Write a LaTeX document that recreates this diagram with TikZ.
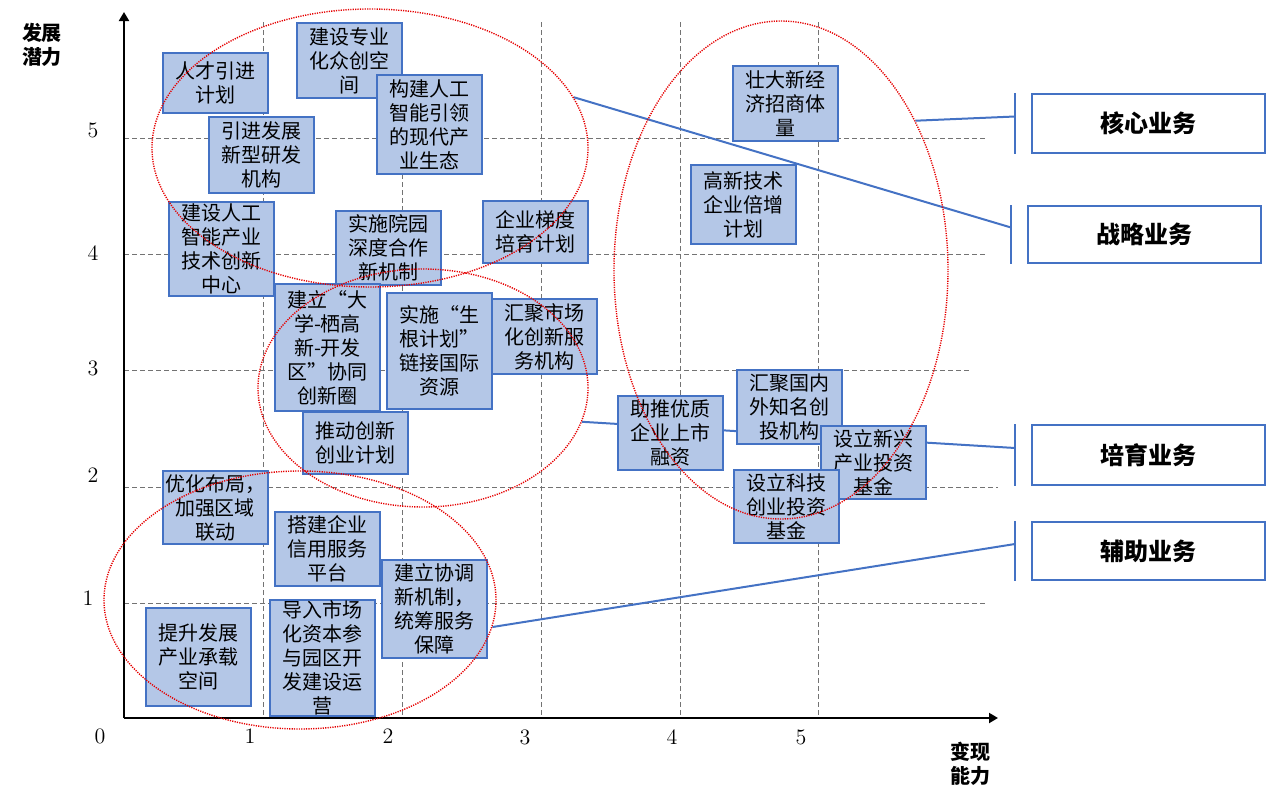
\documentclass[tikz,border=0pt]{standalone}
\usepackage{fontspec}
\newfontfamily\cjk{Noto Sans CJK SC}
\usetikzlibrary{arrows.meta,shapes.geometric}
\pgfdeclarelayer{front}
\pgfsetlayers{main,front}
\definecolor{boxblue}{HTML}{B4C7E7}
\definecolor{lineblue}{HTML}{4472C4}

\begin{document}
\begin{tikzpicture}[x=0.5pt, y=-0.5pt,
    item/.style={draw=lineblue, fill=boxblue, line width=1pt, font=\cjk, align=center,
        inner sep=0pt, minimum width=52.5pt},
    group/.style={draw=lineblue, fill=white, line width=1pt, font=\cjk\bfseries\large,
        minimum width=116.5pt},
    ring/.style={ellipse, draw=red!90!black, dash pattern=on 0.6pt off 0.6pt, line width=0.7pt,
        inner sep=0pt},
    link/.style={lineblue, line width=1pt},
    gridline/.style={black!55, dash pattern=on 2.5pt off 1.5pt, line width=0.5pt}]
    \useasboundingbox (0,0) rectangle (1266,798);

    % grid
    \foreach \x in {263,402,541,680,818}
        \draw[gridline] (\x,22) -- (\x,718);
    \foreach \y/\e in {138/985,254/985,370/970,487/998,603/985}
        \draw[gridline] (124,\y) -- (\e,\y);

    % axes
    \coordinate (o) at (124,718);
    \draw[line width=1pt, -{Triangle[length=4.5pt,width=5pt]}] (o) -- (124,12);
    \draw[line width=1pt, -{Triangle[length=4.5pt,width=5pt]}] (o) -- (998,718);
    \foreach \v/\px/\py in {5/93/130,4/93/253,3/93/368,2/93/475,1/88/598}
        \node[font=\fontsize{11}{13}\selectfont] (ty\v) at (\px,\py) {\v};
    \foreach \v/\px/\py in {0/100/736,1/250/736,2/388/736,3/525/737,4/672/737,5/801/737}
        \node[font=\fontsize{11}{13}\selectfont] (tx\v) at (\px,\py) {\v};
    \node[font=\cjk\bfseries, align=center] (ylab) at (42,45) {发展\\潜力};
    \node[font=\cjk\bfseries, align=center] (xlab) at (970,764) {变现\\能力};

    % groups
    \begin{pgfonlayer}{front}
        \node[ring, minimum width=218pt, minimum height=139pt] (te) at (370,148) {};
        \node[ring, minimum width=165pt, minimum height=119pt] (me) at (423,388) {};
        \node[ring, minimum width=167pt, minimum height=249pt] (re) at (781,270) {};
        \node[ring, minimum width=196pt, minimum height=129pt] (be) at (300,600) {};
    \end{pgfonlayer}

    % business types
    \node[group, minimum height=29.5pt] (hx) at (1148.5,123.5) {核心业务};
    \node[group, minimum height=28.5pt] (zl) at (1144.5,234.5) {战略业务};
    \node[group, minimum height=30pt] (py) at (1148.5,455) {培育业务};
    \node[group, minimum height=29pt] (fz) at (1148.5,551) {辅助业务};
    \foreach \g in {hx,zl,py,fz} {
        \draw[link] ([xshift=-8pt]\g.north west) -- ([xshift=-8pt]\g.south west);
        \coordinate (\g b) at ([xshift=-8pt,yshift=3.5pt]\g.west);
    }

    \draw[link] (re.48) -- (hxb);
    \draw[link] (te.14) -- (zlb);
    \draw[link] (me.-12) -- (pyb);
    \draw[link] (be.-8) -- (fzb);

    % measures
    \node[item, minimum height=30pt] (rc) at (215.5,83) {人才引进\\计划};
    \node[item, minimum height=38pt] (yj) at (261.5,155) {引进发展\\新型研发\\机构};
    \node[item, minimum height=47pt] (rg) at (221.5,249) {建设人工\\智能产业\\技术创新\\中心};
    \node[item, minimum height=37.5pt] (zc) at (349.5,60.5) {建设专业\\化众创空\\间};
    \node[item, minimum height=49.5pt] (gj) at (429.5,124.5) {构建人工\\智能引领\\的现代产\\业生态};
    \node[item, minimum height=37pt] (sy) at (388,248) {实施院园\\深度合作\\新机制};
    \node[item, minimum height=31pt] (td) at (535,232) {企业梯度\\培育计划};
    \node[item, minimum height=37.5pt] (zd) at (785,103.5) {壮大新经\\济招商体\\量};
    \node[item, minimum height=39.5pt] (gx) at (743.5,204.5) {高新技术\\企业倍增\\计划};
    \node[item, minimum height=63.5pt] (dx) at (327.5,347.5) {建立“大\\学-栖高\\新-开发\\区”协同\\创新圈};
    \node[item, minimum height=58pt] (sg) at (439.5,351) {实施“生\\根计划”\\链接国际\\资源};
    \node[item, minimum height=37.5pt] (hj) at (544.5,336.5) {汇聚市场\\化创新服\\务机构};
    \node[item, minimum height=31pt] (tc) at (355,443) {推动创新\\创业计划};
    \node[item, minimum height=37pt] (zt) at (670.5,433) {助推优质\\企业上市\\融资};
    \node[item, minimum height=37pt] (hg) at (789.5,407) {汇聚国内\\外知名创\\投机构};
    \node[item, minimum height=36.5pt] (xx) at (873,462.5) {设立新兴\\产业投资\\基金};
    \node[item, minimum height=36.5pt] (kj) at (786,506.5) {设立科技\\创业投资\\基金};
    \node[item, minimum height=36.5pt] (yh) at (215,507.5) {优化布局，\\加强区域\\联动};
    \node[item, minimum height=37pt] (xy) at (327.5,549) {搭建企业\\信用服务\\平台};
    \node[item, minimum height=49pt] (xt) at (434.5,609) {建立协调\\新机制，\\统筹服务\\保障};
    \node[item, minimum height=49pt] (ts) at (198.5,657) {提升发展\\产业承载\\空间};
    \node[item, minimum height=58pt] (dr) at (322,658) {导入市场\\化资本参\\与园区开\\发建设运\\营};
\end{tikzpicture}
\end{document}
